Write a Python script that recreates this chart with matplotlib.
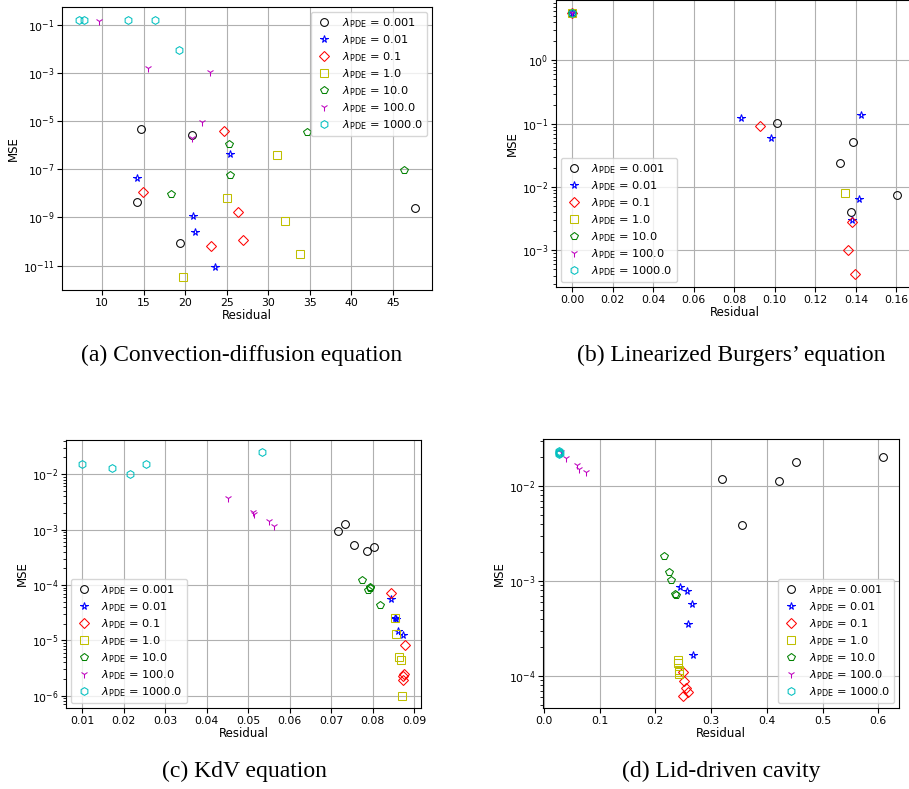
import matplotlib
matplotlib.use("Agg")
import matplotlib.pyplot as plt
import matplotlib.ticker as mticker

lambdas = ["0.001", "0.01", "0.1", "1.0", "10.0", "100.0", "1000.0"]
markers = ["o", "*", "D", "s", "p", "1", "h"]
colors = ["k", "b", "r", "y", "g", "m", "c"]

# (a) Convection-diffusion equation
a_res = [
    [14.66, 20.81, 14.18, 19.40, 47.69],
    [14.14, 25.43, 20.93, 21.21, 23.62],
    [24.62, 14.90, 26.31, 26.95, 23.06],
    [31.01, 25.07, 31.98, 33.87, 19.68],
    [34.63, 25.31, 25.39, 18.32, 46.36],
    [9.68, 15.50, 22.98, 21.97, 20.81],
    [7.19, 7.79, 13.17, 16.35, 19.28],
]
a_mse = [
    [4.9e-6, 2.8e-6, 4.4e-9, 8.3e-11, 2.4e-9],
    [4.3e-8, 4.4e-7, 1.2e-9, 2.6e-10, 9.1e-12],
    [3.8e-6, 1.2e-8, 1.7e-9, 1.2e-10, 6.4e-11],
    [3.9e-7, 6.5e-9, 6.9e-10, 3.0e-11, 3.3e-12],
    [3.6e-6, 1.15e-6, 6.0e-8, 9.5e-9, 9.5e-8],
    [0.15, 1.7e-3, 1.1e-3, 9.3e-6, 2.0e-6],
    [0.167, 0.167, 0.167, 0.167, 9.3e-3],
]

# (b) Linearized Burgers' equation
b_res = [
    [0.0, 0.1012, 0.1386, 0.1320, 0.1602, 0.1376],
    [0.0, 0.0835, 0.0980, 0.1425, 0.1414, 0.1382],
    [0.0, 0.0929, 0.1381, 0.1360, 0.1394],
    [0.0, 0.1345],
    [0.0],
    [0.0],
    [0.0],
]
b_mse = [
    [5.6, 0.103, 0.051, 0.0243, 0.00745, 0.0040],
    [5.6, 0.122, 0.0598, 0.139, 0.0066, 0.00306],
    [5.6, 0.093, 0.0028, 0.00101, 4.25e-4],
    [5.6, 0.0082],
    [5.6],
    [5.6],
    [5.6],
]

# (c) KdV equation
c_res = [
    [0.0716, 0.0734, 0.0756, 0.0786, 0.0804],
    [0.0844, 0.0854, 0.0856, 0.0862, 0.0873],
    [0.0844, 0.0878, 0.0876, 0.0874, 0.0873],
    [0.0854, 0.0856, 0.0863, 0.0869, 0.0872],
    [0.0774, 0.0789, 0.0793, 0.0795, 0.0818],
    [0.0451, 0.0512, 0.0514, 0.0550, 0.0562],
    [0.0100, 0.0173, 0.0216, 0.0253, 0.0534],
]
c_mse = [
    [9.3e-4, 1.26e-3, 5.35e-4, 4.12e-4, 4.8e-4],
    [5.5e-5, 2.57e-5, 2.45e-5, 1.5e-5, 1.23e-5],
    [7.2e-5, 8.1e-6, 2.45e-6, 2.3e-6, 1.95e-6],
    [2.5e-5, 1.32e-5, 5.0e-6, 4.5e-6, 1.0e-6],
    [1.22e-4, 8.2e-5, 8.8e-5, 9.3e-5, 4.4e-5],
    [3.65e-3, 2.1e-3, 1.9e-3, 1.45e-3, 1.18e-3],
    [0.0151, 0.01265, 0.00986, 0.01535, 0.0249],
]

# (d) Lid-driven cavity
d_res = [
    [0.319, 0.356, 0.421, 0.452, 0.608],
    [0.2443, 0.2563, 0.2659, 0.2593, 0.2671],
    [0.249, 0.2515, 0.255, 0.2593, 0.249],
    [0.2407, 0.2413, 0.2425, 0.2431, 0.2420],
    [0.2156, 0.224, 0.2275, 0.236, 0.2365],
    [0.039, 0.0587, 0.0623, 0.0754, 0.030],
    [0.028, 0.028, 0.0275, 0.0285, 0.0278],
]
d_mse = [
    [0.01194, 0.00391, 0.01137, 0.01766, 0.0203],
    [8.65e-4, 7.8e-4, 5.66e-4, 3.56e-4, 1.66e-4],
    [1.1e-4, 8.8e-5, 7.5e-5, 6.8e-5, 6.2e-5],
    [1.46e-4, 1.38e-4, 1.16e-4, 1.04e-4, 1.1e-4],
    [1.82e-3, 1.25e-3, 1.02e-3, 7.25e-4, 7.1e-4],
    [0.0199, 0.0166, 0.0152, 0.0140, 0.0225],
    [0.0229, 0.0220, 0.0215, 0.0224, 0.0232],
]

captions = ["(a) Convection-diffusion equation", "(b) Linearized Burgers\u2019 equation",
            "(c) KdV equation", "(d) Lid-driven cavity"]

W, H = 909, 789
fig = plt.figure(figsize=(W / 100, H / 100), dpi=100)


def panel(box, res, mse, legend_loc):
    l, t, r, b = box
    ax = fig.add_axes([l / W, (H - b) / H, (r - l) / W, (b - t) / H])
    for i in range(7):
        ax.plot(res[i], mse[i], linestyle="none", marker=markers[i], markersize=5.6,
                markerfacecolor="none", markeredgecolor=colors[i], markeredgewidth=0.75,
                label=r"$\lambda_{\rm PDE}$ = " + lambdas[i])
    ax.set_yscale("log")
    ax.set_xlabel("Residual", fontsize=8.5, labelpad=1)
    ax.set_ylabel("MSE", fontsize=8.5, labelpad=2)
    ax.tick_params(labelsize=7.8, pad=2)
    ax.grid(True)
    ax.legend(loc=legend_loc, fontsize=8.2, handlelength=1.5, labelspacing=0.28,
              borderaxespad=0.4)
    return ax


ax_a = panel((62, 7, 432, 290), a_res, a_mse, "upper right")
ax_a.set_yticks([1e-1, 1e-3, 1e-5, 1e-7, 1e-9, 1e-11])
ax_a.yaxis.set_minor_locator(mticker.NullLocator())

ax_b = panel((556, 0, 913, 287), b_res, b_mse, "lower left")
ax_c = panel((66, 440, 421, 708), c_res, c_mse, "lower left")
ax_d = panel((543, 439, 899, 708), d_res, d_mse, "lower right")

cap_font = dict(fontsize=17, family="Liberation Serif", ha="center", va="center")
fig.text(242 / W, 1 - 355 / H, captions[0], **cap_font)
fig.text(731 / W, 1 - 355 / H, captions[1], **cap_font)
fig.text(244 / W, 1 - 771 / H, captions[2], **cap_font)
fig.text(721 / W, 1 - 771 / H, captions[3], **cap_font)

fig.savefig("out.png", dpi=100)
